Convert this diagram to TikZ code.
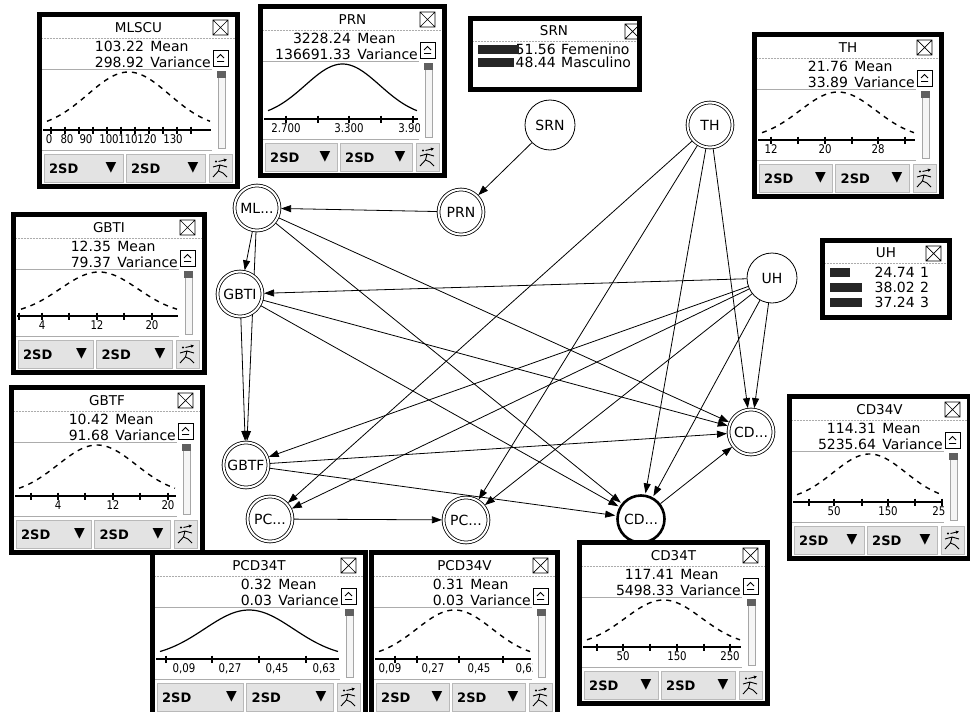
\documentclass[tikz,border=0pt]{standalone}
\usepackage{fontspec}
\setmainfont{DejaVu Sans}
\newfontfamily\axf[FakeStretch=0.85]{DejaVu Sans}
\usetikzlibrary{arrows.meta,backgrounds}

\newcounter{lbl}
\tikzset{
  pframe/.style={line width=5pt},
  sepline/.style={gray!65, line width=0.5pt},
  btn/.style={fill=gray!22, draw=gray!55, line width=0.6pt},
  ttl/.style={font=\fontsize{13.5}{14}\selectfont, inner sep=0pt},
  stat/.style={font=\fontsize{14}{14}\selectfont, inner sep=0pt},
  axlab/.style={font=\axf\fontsize{12}{12}\selectfont, inner sep=0pt},
  btnlab/.style={font=\bfseries\fontsize{13}{13}\selectfont, inner sep=0pt},
  gnode/.style={circle, draw, fill=white, line width=0.8pt, minimum size=50pt, inner sep=0pt, font=\fontsize{14}{14}\selectfont},
  dnode/.style={gnode, double, double distance=2pt, minimum size=45pt},
  bnode/.style={gnode, line width=2.6pt, minimum size=47pt},
  arr/.style={-{Triangle[length=10pt,width=7pt]}, line width=0.8pt, shorten >=1.2pt},
  curvedash/.style={line width=1.4pt, dash pattern=on 5pt off 5pt},
  curvesolid/.style={line width=1.2pt},
}

\newcommand\mnr[1]{\draw[line width=1.2pt] (#1,\axy-3.5) -- (#1,\axy+3.5);}
\newcommand\lab[2]{\stepcounter{lbl}\node[axlab] (ax\arabic{lbl}) at (#1,\axy+9.5) {#2};}
\newcommand\maj[2]{\mnr{#1}\lab{#1}{#2}}

% icon in the small button, origin = top-left of button
\newcommand\pico{%
  \fill (7,7.5) circle (1.2pt);
  \draw[line width=0.9pt, -{Triangle[length=3pt,width=3pt]}] (9.5,7.5) -- (18,5.5);
  \draw[line width=0.9pt] (4,13) -- (11,11) -- (18,13) (11,11) -- (9.5,17) -- (4,23) (9.5,17) -- (14,19) -- (18,23);
}

% #1 x, #2 y, #3 width, #4 height, #5 title, #6 mean, #7 variance, #8 curve style, #9 axis code
\newcommand\dpanel[9]{%
 \begin{scope}[shift={(#1,#2)}]
  \pgfmathsetmacro\pw{#3}
  \pgfmathsetmacro\ph{#4}
  \pgfmathsetmacro\axy{\ph-59}
  \pgfmathsetmacro\amp{\ph-120}
  \pgfmathsetmacro\xe{\pw-30}
  \pgfmathsetmacro\cc{(\pw-20)/2}
  \pgfmathsetmacro\ss{(\pw-40)/4}
  \pgfmathsetmacro\bw{(\pw-45)/2}
  \fill[white] (0,0) rectangle (\pw,\ph);
  \node[ttl] (#5-title) at ({\pw/2},16) {#5};
  \draw[sepline, densely dotted] (5,26) -- ({\pw-5},26);
  \draw[line width=0.7pt] ({\pw-27},8) rectangle ({\pw-12},23)
     ({\pw-27},8) -- ({\pw-12},23) ({\pw-27},23) -- ({\pw-12},8);
  \node[stat, anchor=base east] (#5-var) at ({\pw-29},55) {Variance};
  \node[stat, anchor=base west] (#5-mean) at ([yshift=16pt]#5-var.base west) {Mean};
  \node[stat, anchor=base east] (#5-vv) at ([xshift=-6pt]#5-var.base west) {#7};
  \node[stat, anchor=base east] (#5-mv) at ([xshift=-6pt]#5-mean.base west) {#6};
  \draw[line width=0.6pt, fill=white] ({\pw-27},38) rectangle ({\pw-12},54);
  \draw[line width=0.8pt] ({\pw-23},46) -- ({\pw-19.5},42.5) -- ({\pw-16},46) ({\pw-23},49.5) -- ({\pw-16},49.5);
  \draw[sepline] (5,57) -- ({\pw-28},57);
  \draw[gray!70, line width=0.6pt, fill=gray!8] ({\pw-22},60) rectangle ({\pw-15},\ph-41);
  \fill[gray!75!black] ({\pw-23},59) rectangle ({\pw-14},66);
  \begin{scope}
   \clip (5,57) rectangle ({\pw-28},\ph-39);
   \draw[#8] plot[domain=10:\xe, samples=60] (\x, {\axy-1 - \amp*exp(-0.5*((\x-\cc)/\ss)*((\x-\cc)/\ss))});
   \draw[line width=1.2pt] (6,\axy) -- ({\pw-29},\axy);
   #9
  \end{scope}
  \draw[sepline] (5,\ph-39) -- ({\pw-28},\ph-39);
  \draw[btn] (7,\ph-35) rectangle ({7+\bw},\ph-7);
  \draw[btn] ({10+\bw},\ph-35) rectangle ({10+2*\bw},\ph-7);
  \draw[btn] ({\pw-31},\ph-35) rectangle ({\pw-8},\ph-7);
  \node[btnlab, anchor=west] (#5-b1) at (12,\ph-20.5) {2SD};
  \node[btnlab, anchor=west] (#5-b2) at ({15+\bw},\ph-20.5) {2SD};
  \node[btnlab, font=\fontsize{14}{14}\selectfont] (#5-t1) at ({\bw-5},\ph-21) {▼};
  \node[btnlab, font=\fontsize{14}{14}\selectfont] (#5-t2) at ({2*\bw-2},\ph-21) {▼};
  \begin{scope}[shift={({\pw-31},\ph-35)}]\pico\end{scope}
  \draw[pframe] (2.5,2.5) rectangle ({\pw-2.5},\ph-2.5);
 \end{scope}}

\begin{document}
\begin{tikzpicture}[x=1pt,y=-1pt]
\useasboundingbox (0,0) rectangle (970,712);

% ---------- network nodes ----------
\node[gnode] (srn) at (550,125) {SRN};
\node[dnode] (th) at (710,125) {TH};
\node[dnode] (prn) at (461,212) {PRN};
\node[dnode] (ml) at (257,208) {ML...};
\node[dnode] (gbti) at (240,294) {GBTI};
\node[gnode] (uh) at (772,278) {UH};
\node[dnode] (gbtf) at (246,465) {GBTF};
\node[dnode] (cdr) at (751,432) {CD...};
\node[bnode] (cdb) at (641,519) {CD...};
\node[dnode] (pcl) at (270,519) {PC...};
\node[dnode] (pcm) at (466,520) {PC...};

\begin{pgfonlayer}{background}
 \draw[arr] (srn) -- (prn);
 \draw[arr] (prn) -- (ml);
 \draw[arr] (ml) -- (gbti);
 \draw[arr] (ml) -- (gbtf);
 \draw[arr] (gbti) -- (gbtf);
 \draw[arr] (ml) -- (cdr);
 \draw[arr] (ml) -- (cdb);
 \draw[arr] (gbti) -- (cdr);
 \draw[arr] (gbti) -- (cdb);
 \draw[arr] (gbtf) -- (cdr);
 \draw[arr] (gbtf) -- (cdb);
 \draw[arr] (uh) -- (gbti);
 \draw[arr] (uh) -- (gbtf);
 \draw[arr] (uh) -- (pcl);
 \draw[arr] (uh) -- (pcm);
 \draw[arr] (uh) -- (cdb);
 \draw[arr] (uh) -- (cdr);
 \draw[arr] (th) -- (pcl);
 \draw[arr] (th) -- (pcm);
 \draw[arr] (th) -- (cdb);
 \draw[arr] (th) -- (cdr);
 \draw[arr] (pcl) -- (pcm);
 \draw[arr] (cdb) -- (cdr);
\end{pgfonlayer}

% ---------- distribution panels ----------
\dpanel{37}{12}{203}{177}{MLSCU}{103.22}{298.92}{curvedash}{%
  \foreach \t in {14,28,42,56,70,84,98,112,126,140,154}{\mnr{\t}}%
  \lab{12}{0}\lab{30}{80}\lab{49}{90}\lab{72}{100}\lab{91}{110}\lab{110}{120}\lab{136}{130}}

\dpanel{258}{4}{189}{174}{PRN}{3228.24}{136691.33}{curvesolid}{%
  \maj{28}{2.700}\mnr{60}\maj{91}{3.300}\mnr{123}\maj{155}{3.900}}

\dpanel{752}{32}{192}{167}{TH}{21.76}{33.89}{curvedash}{%
  \maj{19}{12}\mnr{46}\maj{73}{20}\mnr{100}\maj{126}{28}\mnr{153}}

\dpanel{11}{212}{196}{163}{GBTI}{12.35}{79.37}{curvedash}{%
  \mnr{8}\maj{31}{4}\mnr{58}\maj{86}{12}\mnr{113}\maj{141}{20}}

\dpanel{9}{385}{196}{170}{GBTF}{10.42}{91.68}{curvedash}{%
  \mnr{22}\maj{49}{4}\mnr{76}\maj{104}{12}\mnr{131}\maj{159}{20}}

\dpanel{787}{394}{185}{167}{CD34V}{114.31}{5235.64}{curvedash}{%
  \mnr{22}\maj{47}{50}\mnr{75}\maj{101}{150}\mnr{128}\maj{155}{250}}

\dpanel{150}{550}{218}{168}{PCD34T}{0.32}{0.03}{curvesolid}{%
  \mnr{16}\lab{34}{0,09}\mnr{62}\lab{80}{0,27}\mnr{109}\lab{127}{0,45}\mnr{156}\lab{174}{0,63}}

\dpanel{369}{550}{191}{168}{PCD34V}{0.31}{0.03}{curvedash}{%
  \mnr{26}\lab{21}{0,09}\mnr{48}\lab{64}{0,27}\mnr{90}\lab{110}{0,45}\mnr{134}\lab{158}{0,63}}

\dpanel{577}{540}{193}{166}{CD34T}{117.41}{5498.33}{curvedash}{%
  \mnr{20}\maj{46}{50}\mnr{73}\maj{100}{150}\mnr{127}\maj{153}{250}}

% ---------- SRN table panel ----------
\begin{scope}[shift={(468,16)}]
  \fill[white] (0,0) rectangle (174,76);
  \node[ttl] (SRN-title) at (86,15) {SRN};
  \draw[sepline, densely dotted] (5,25) -- (169,25);
  \draw[line width=0.7pt] (157,8) rectangle (172,23) (157,8) -- (172,23) (157,23) -- (172,8);
  \node[stat, anchor=base east] (SRN-n1) at (88,38) {51.56};
  \node[stat, anchor=base west] (SRN-l1) at (93,38) {Femenino};
  \node[stat, anchor=base east] (SRN-n2) at (88,51) {48.44};
  \node[stat, anchor=base west] (SRN-l2) at (93,51) {Masculino};
  \fill[black!85] (10,29) rectangle (51,38);
  \fill[black!85] (10,42) rectangle (46,51);
  \draw[pframe] (2.5,2.5) rectangle (171.5,73.5);
\end{scope}

% ---------- UH table panel ----------
\begin{scope}[shift={(820,238)}]
  \fill[white] (0,0) rectangle (132,82);
  \node[ttl] (UH-title) at (66,15) {UH};
  \draw[sepline, densely dotted] (5,25) -- (127,25);
  \draw[line width=0.7pt] (106,8) rectangle (121,23) (106,8) -- (121,23) (106,23) -- (121,8);
  \fill[black!85] (10,30) rectangle (30,39);
  \fill[black!85] (10,45) rectangle (42,54);
  \fill[black!85] (10,60) rectangle (42,69);
  \node[stat, anchor=base east] (UH-n1) at (95,39) {24.74};
  \node[stat, anchor=base west] (UH-l1) at (100,39) {1};
  \node[stat, anchor=base east] (UH-n2) at (95,54) {38.02};
  \node[stat, anchor=base west] (UH-l2) at (100,54) {2};
  \node[stat, anchor=base east] (UH-n3) at (95,69) {37.24};
  \node[stat, anchor=base west] (UH-l3) at (100,69) {3};
  \draw[pframe] (2.5,2.5) rectangle (129.5,79.5);
\end{scope}
\end{tikzpicture}
\end{document}
